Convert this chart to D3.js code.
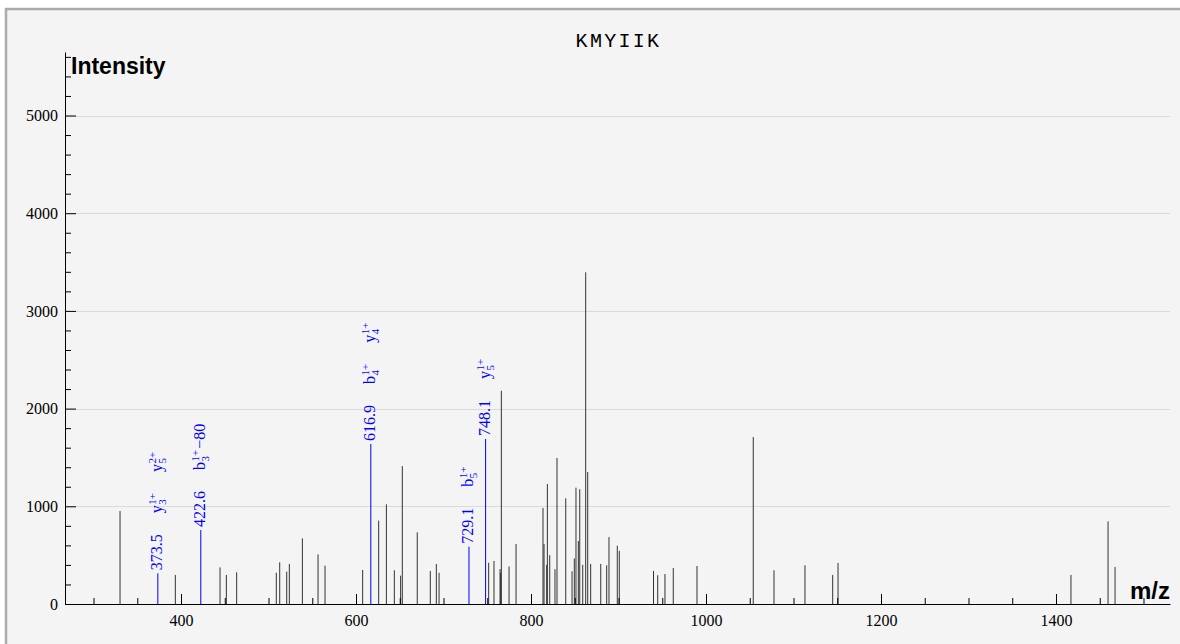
<!DOCTYPE html>
<html>
<head>
<meta charset="utf-8">
<script src="https://cdn.jsdelivr.net/npm/d3@7"></script>
<style>
  html, body { margin: 0; padding: 0; background: #ffffff; }
  svg { display: block; }
</style>
</head>
<body>
<svg id="chart" width="1180" height="644"></svg>
<script>
// ---------------- data ----------------
const title = "KMYIIK";
const peakMz = [330.3, 393.5, 444.6, 451.8, 463.6, 508.9, 512.8, 520.8, 523.8, 538.7,
  556.6, 564.6, 607.6, 625.9, 634.7, 643.8, 651.0, 652.9, 670.0, 684.9,
  691.8, 694.9, 751.6, 757.7, 764.6, 765.3, 766.1, 774.9, 782.9, 813.7,
  814.9, 817.9, 818.7, 821.4, 827.4, 829.7, 839.7, 846.9, 849.5, 851.4,
  854.1, 855.7, 859.1, 862.5, 864.8, 868.2, 879.7, 886.5, 889.1, 898.6,
  900.9, 940.0, 944.8, 953.1, 962.6, 989.7, 1054.0, 1077.7, 1113.1, 1144.8,
  1150.9, 1417.1, 1459.5, 1467.5];
const peakInt = [952, 297, 375, 297, 324, 320, 427, 331, 409, 672,
  508, 392, 348, 853, 1020, 345, 290, 1412, 734, 338,
  409, 320, 423, 440, 358, 320, 2183, 384, 614, 983,
  614, 401, 1228, 500, 356, 1494, 1082, 336, 466, 1191,
  645, 1175, 401, 3395, 1351, 410, 410, 396, 685, 597,
  544, 338, 294, 307, 368, 389, 1709, 345, 396, 297,
  420, 297, 846, 379];

const annMz = [373.5, 422.6, 616.9, 729.1, 748.1];
const annInt = [314, 757, 1638, 587, 1689];
const annText = ["373.5", "422.6", "616.9", "729.1", "748.1"];
// ion labels: [letter, subscript, superscript, suffix]
const annIons = [
  [["y", "3", "1+", ""], ["y", "5", "2+", ""]],
  [["b", "3", "1+", "\u221280"]],
  [["b", "4", "1+", ""], ["y", "4", "1+", ""]],
  [["b", "5", "1+", ""]],
  [["y", "5", "1+", ""]]
];

const xTicks = d3.range(300, 1501, 50);
const xMajor = [400, 600, 800, 1000, 1200, 1400];
const yTicks = d3.range(0, 5601, 200);
const yMajor = [0, 1000, 2000, 3000, 4000, 5000];
const xLabel = "m/z";
const yLabel = "Intensity";

// ---------------- layout ----------------
const svg = d3.select("#chart");
const L = 65, R = 1170, B = 604, T = 52;
const x = d3.scaleLinear().domain([267.4, 1530.3]).range([L, R]);
const y = d3.scaleLinear().domain([0, 5650]).range([B, T]);

const serif = "'Liberation Serif', 'Times New Roman', serif";
const sans = "'Liberation Sans', Arial, sans-serif";

// panel
svg.append("rect").attr("x", 6).attr("y", 9).attr("width", 1190).attr("height", 650)
  .attr("fill", "#f4f4f4").attr("stroke", "#ababab").attr("stroke-width", 2.5);

// grid
svg.append("g").selectAll("line").data(yMajor.filter(d => d > 0)).join("line")
  .attr("x1", L).attr("x2", R)
  .attr("y1", d => Math.round(y(d)) + 0.5).attr("y2", d => Math.round(y(d)) + 0.5)
  .attr("stroke", "#dadada").attr("stroke-width", 1);

// peaks
svg.append("g").selectAll("line").data(peakMz).join("line")
  .attr("x1", d => x(d)).attr("x2", d => x(d))
  .attr("y1", y(0)).attr("y2", (d, i) => y(peakInt[i]))
  .attr("stroke", "#333").attr("stroke-width", 1);

// annotated peaks
svg.append("g").selectAll("line").data(annMz).join("line")
  .attr("x1", d => x(d)).attr("x2", d => x(d))
  .attr("y1", y(0)).attr("y2", (d, i) => y(annInt[i]))
  .attr("stroke", "#0000ff").attr("stroke-width", 1);

// axes
const xAxis = d3.axisBottom(x).tickValues(xTicks).tickSizeInner(-6).tickSizeOuter(0)
  .tickFormat(d => xMajor.includes(d) ? d : "");
const gx = svg.append("g").attr("transform", `translate(0,${B})`).call(xAxis);
gx.select(".domain").attr("stroke", "#000");
gx.selectAll(".tick line").attr("stroke", "#000").attr("y2", d => xMajor.includes(d) ? -10 : -6);
gx.selectAll(".tick text").attr("y", 22).attr("dy", null)
  .attr("font-family", serif).attr("font-size", 16).attr("fill", "#000");

const yAxis = d3.axisLeft(y).tickValues(yTicks).tickSizeInner(-6).tickSizeOuter(0)
  .tickFormat(d => yMajor.includes(d) ? d : "");
const gy = svg.append("g").attr("transform", `translate(${L},0)`).call(yAxis);
gy.select(".domain").attr("stroke", "#000");
gy.selectAll(".tick line").attr("stroke", "#000").attr("x2", d => yMajor.includes(d) ? 11 : 6);
gy.selectAll(".tick text").attr("x", -7).attr("dy", "0.33em")
  .attr("font-family", serif).attr("font-size", 16).attr("fill", "#000");

// title & axis labels
svg.append("text").attr("x", (L + R) / 2 + 1).attr("y", 47).attr("text-anchor", "middle")
  .attr("font-family", "'Liberation Mono', 'Courier New', monospace").attr("font-size", 20)
  .attr("letter-spacing", 2.3)
  .attr("fill", "#000").text(title);
svg.append("text").attr("x", 71).attr("y", 74)
  .attr("font-family", sans).attr("font-weight", "bold").attr("font-size", 23)
  .attr("fill", "#000").text(yLabel);
svg.append("text").attr("x", R).attr("y", 599).attr("text-anchor", "end")
  .attr("font-family", sans).attr("font-weight", "bold").attr("font-size", 24)
  .attr("fill", "#000").text(xLabel);

// annotations
annMz.forEach((m, i) => {
  const g = svg.append("g")
    .attr("transform", `translate(${x(m) + 4},${y(annInt[i]) - 3}) rotate(-90)`)
    .attr("fill", "#0000ff").attr("font-family", serif);
  const mt = g.append("text").attr("x", 0).attr("y", 0).attr("font-size", 16).text(annText[i]);
  let off = mt.node().getComputedTextLength() + 21;
  annIons[i].forEach(ion => {
    const [l, sub, sup, suf] = ion;
    const t1 = g.append("text").attr("x", off).attr("y", 0).attr("font-size", 16).text(l);
    const w1 = t1.node().getComputedTextLength();
    const ts = g.append("text").attr("x", off + w1 + 0.5).attr("y", -6).attr("font-size", 11).text(sup);
    const tb = g.append("text").attr("x", off + w1 + 0.5).attr("y", 4).attr("font-size", 11).text(sub);
    let w = w1 + 0.5 + Math.max(ts.node().getComputedTextLength(), tb.node().getComputedTextLength());
    if (suf) {
      const tf = g.append("text").attr("x", off + w + 1).attr("y", 0).attr("font-size", 16).text(suf);
      w += 1 + tf.node().getComputedTextLength();
    }
    off += w + 21;
  });
});
</script>
</body>
</html>
